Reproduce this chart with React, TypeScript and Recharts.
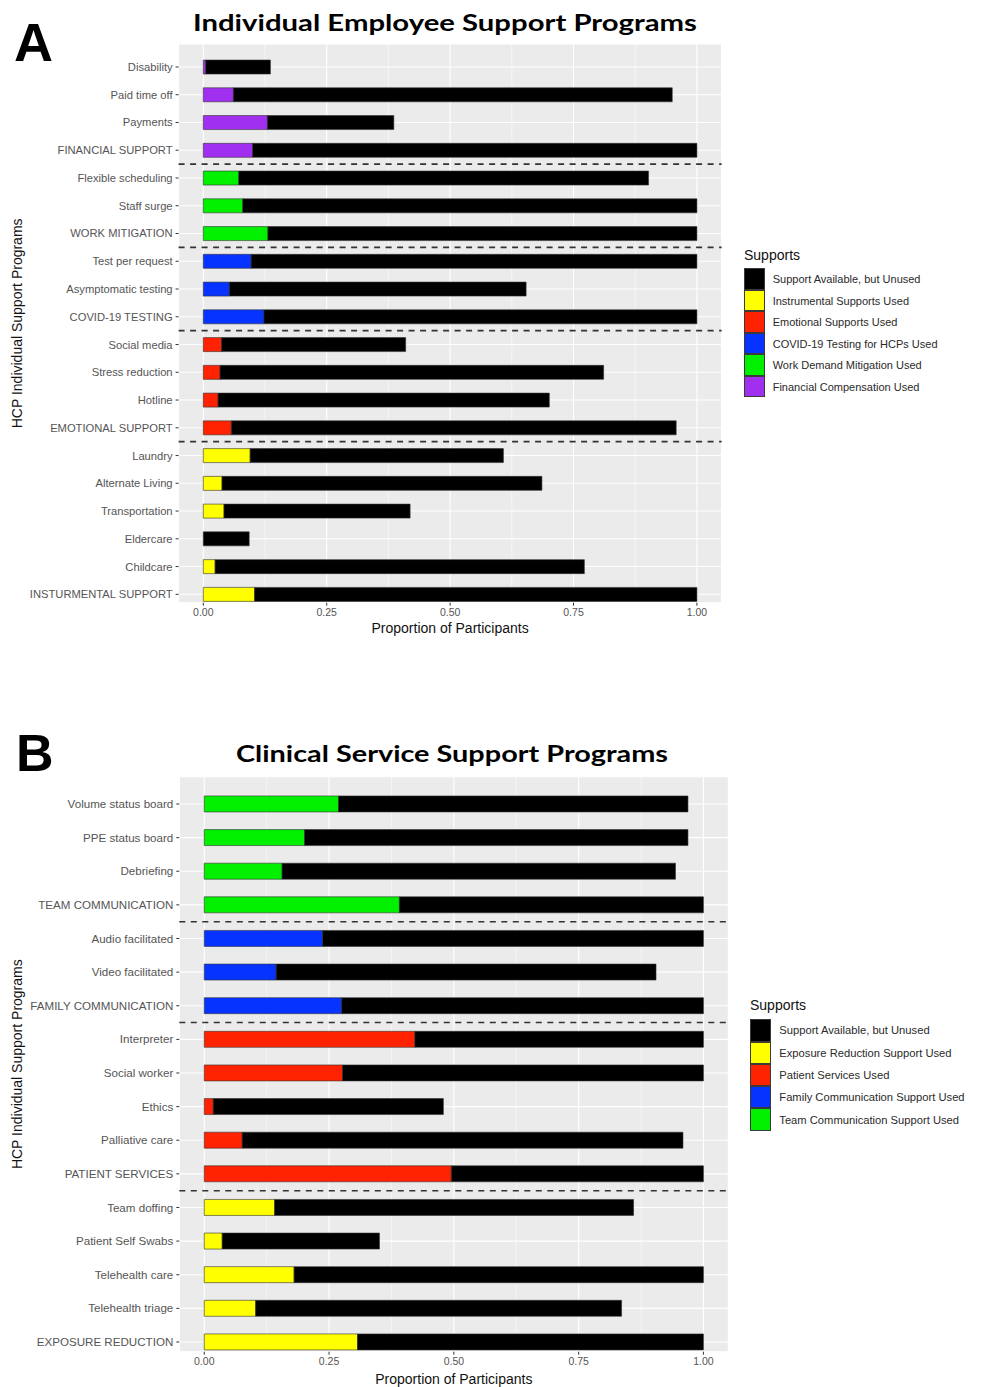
import React from 'react';
import {
  BarChart,
  Bar,
  XAxis,
  YAxis,
  CartesianGrid,
  ReferenceLine,
  Legend,
  Cell,
} from 'recharts';

const FONT = '"Liberation Sans", Arial, Helvetica, sans-serif';

// ---------------- Panel A data ----------------
const A_CATEGORIES = [
  'Disability',
  'Paid time off',
  'Payments',
  'FINANCIAL SUPPORT',
  'Flexible scheduling',
  'Staff surge',
  'WORK MITIGATION',
  'Test per request',
  'Asymptomatic testing',
  'COVID-19 TESTING',
  'Social media',
  'Stress reduction',
  'Hotline',
  'EMOTIONAL SUPPORT',
  'Laundry',
  'Alternate Living',
  'Transportation',
  'Eldercare',
  'Childcare',
  'INSTURMENTAL SUPPORT',
];
const A_USED = [
  0.005, 0.061, 0.13, 0.1, 0.072, 0.08, 0.131, 0.097, 0.053, 0.123, 0.037, 0.034, 0.03,
  0.057, 0.095, 0.038, 0.042, 0, 0.024, 0.104,
];
const A_TOTAL = [
  0.136, 0.95, 0.386, 1.0, 0.902, 1.0, 1.0, 1.0, 0.654, 1.0, 0.41, 0.811, 0.701, 0.958,
  0.608, 0.686, 0.419, 0.093, 0.772, 1.0,
];
const A_GROUP = [
  'financial', 'financial', 'financial', 'financial',
  'work', 'work', 'work',
  'testing', 'testing', 'testing',
  'emotional', 'emotional', 'emotional', 'emotional',
  'instrumental', 'instrumental', 'instrumental', 'instrumental', 'instrumental', 'instrumental',
];
const A_LEGEND_LABELS = [
  'Support Available, but Unused',
  'Instrumental Supports Used',
  'Emotional Supports Used',
  'COVID-19 Testing for HCPs Used',
  'Work Demand Mitigation Used',
  'Financial Compensation Used',
];

// ---------------- Panel B data ----------------
const B_CATEGORIES = [
  'Volume status board',
  'PPE status board',
  'Debriefing',
  'TEAM COMMUNICATION',
  'Audio facilitated',
  'Video facilitated',
  'FAMILY COMMUNICATION',
  'Interpreter',
  'Social worker',
  'Ethics',
  'Palliative care',
  'PATIENT SERVICES',
  'Team doffing',
  'Patient Self Swabs',
  'Telehealth care',
  'Telehealth triage',
  'EXPOSURE REDUCTION',
];
const B_USED = [
  0.269, 0.201, 0.156, 0.391, 0.237, 0.144, 0.275, 0.422, 0.277, 0.018, 0.076, 0.495, 0.141,
  0.036, 0.18, 0.103, 0.307,
];
const B_TOTAL = [
  0.969, 0.969, 0.944, 1.0, 1.0, 0.905, 1.0, 1.0, 1.0, 0.479, 0.959, 1.0, 0.86, 0.351, 1.0,
  0.836, 1.0,
];
const B_GROUP = [
  'team', 'team', 'team', 'team',
  'family', 'family', 'family',
  'patient', 'patient', 'patient', 'patient', 'patient',
  'exposure', 'exposure', 'exposure', 'exposure', 'exposure',
];
const B_LEGEND_LABELS = [
  'Support Available, but Unused',
  'Exposure Reduction Support Used',
  'Patient Services Used',
  'Family Communication Support Used',
  'Team Communication Support Used',
];

// ---------------- Colours ----------------
const UNUSED_COLOR = '#000000';
const GROUP_COLORS: Record<string, string> = {
  financial: '#A12FF0',
  work: '#00F000',
  testing: '#0633FF',
  emotional: '#FF2200',
  instrumental: '#FFFF00',
  team: '#00F000',
  family: '#0633FF',
  patient: '#FF2200',
  exposure: '#FFFF00',
};
const A_LEGEND_COLORS = [UNUSED_COLOR, '#FFFF00', '#FF2200', '#0633FF', '#00F000', '#A12FF0'];
const B_LEGEND_COLORS = [UNUSED_COLOR, '#FFFF00', '#FF2200', '#0633FF', '#00F000'];

// ---------------- Axis ticks ----------------
const X_TICKS = [0, 0.25, 0.5, 0.75, 1];
const X_MINOR = [0.125, 0.375, 0.625, 0.875];

function buildRows(cats: string[], used: number[], total: number[], groups: string[]) {
  return cats.map((name, i) => ({
    name,
    used: used[i],
    unused: +(total[i] - used[i]).toFixed(4),
    group: groups[i],
  }));
}

function groupStarts(cats: string[], groups: string[]) {
  const out: string[] = [];
  for (let i = 1; i < cats.length; i++) {
    if (groups[i] !== groups[i - 1]) out.push(cats[i]);
  }
  return out;
}

const YTick = (props: any) => {
  const { x, y, payload, size } = props;
  return (
    <text
      x={x}
      y={y}
      dy="0.355em"
      textAnchor="end"
      fill="#555555"
      fontSize={size}
      fontFamily={FONT}
    >
      {payload.value}
    </text>
  );
};

type LegendProps = {
  labels: string[];
  colors: string[];
  keyH: number;
  textLeft: number;
  titleGap: number;
  fontSize: number;
};

const LegendBlock = ({ labels, colors, keyH, textLeft, titleGap, fontSize }: LegendProps) => (
  <div style={{ fontFamily: FONT, color: '#222' }}>
    <div style={{ fontSize: 14, lineHeight: '16px', marginBottom: titleGap, color: '#111' }}>Supports</div>
    {labels.map((lab, i) => (
      <div key={lab} style={{ display: 'flex', alignItems: 'center', height: keyH }}>
        <div
          style={{
            width: 21,
            height: keyH,
            boxSizing: 'border-box',
            background: colors[i],
            border: '1px solid #3a3a3a',
          }}
        />
        <span style={{ marginLeft: textLeft, fontSize, whiteSpace: 'nowrap', color: '#2a2a2a' }}>{lab}</span>
      </div>
    ))}
  </div>
);

type PanelProps = {
  rows: any[];
  starts: string[];
  height: number;
  marginTop: number;
  marginRight: number;
  yWidth: number;
  padTop: number;
  padBottom: number;
  gap: string;
  tickFont: number;
  xAxisHeight: number;
  xLabelOffset: number;
  legendLeft: number;
  legendTop: number;
  legend: LegendProps;
};

const Panel = (p: PanelProps) => (
  <BarChart
    width={983}
    height={p.height}
    data={p.rows}
    layout="vertical"
    margin={{ top: p.marginTop, right: p.marginRight, bottom: 0, left: 0 }}
    barCategoryGap={p.gap}
  >
    <CartesianGrid fill="#EBEBEB" fillOpacity={1} stroke="#FFFFFF" strokeWidth={1.1} />
    <CartesianGrid
      horizontal={false}
      verticalValues={X_MINOR}
      stroke="#FFFFFF"
      strokeWidth={0.5}
      fill="none"
    />
    <XAxis
      type="number"
      domain={[-0.05, 1.05]}
      ticks={X_TICKS}
      interval={0}
      tickFormatter={(v: number) => v.toFixed(2)}
      axisLine={false}
      tickSize={3}
      tickMargin={3}
      tickLine={{ stroke: '#333333' }}
      tick={{ fill: '#555555', fontSize: 10.5, fontFamily: FONT }}
      height={p.xAxisHeight}
      label={{
        value: 'Proportion of Participants',
        position: 'insideBottom',
        offset: p.xLabelOffset,
        style: { fill: '#111111', fontSize: 14, fontFamily: FONT },
      }}
    />
    <YAxis
      type="category"
      dataKey="name"
      width={p.yWidth}
      interval={0}
      axisLine={false}
      tickSize={3}
      tickMargin={3}
      tickLine={{ stroke: '#333333' }}
      tick={<YTick size={p.tickFont} />}
      padding={{ top: p.padTop, bottom: p.padBottom }}
      label={{
        value: 'HCP Individual Support Programs',
        angle: -90,
        position: 'insideLeft',
        offset: 17,
        style: { textAnchor: 'middle', fill: '#111111', fontSize: 14, fontFamily: FONT },
      }}
    />
    <Bar dataKey="used" stackId="s" stroke="#333333" strokeWidth={0.6} isAnimationActive={false}>
      {p.rows.map((r) => (
        <Cell key={r.name} fill={GROUP_COLORS[r.group]} />
      ))}
    </Bar>
    <Bar
      dataKey="unused"
      stackId="s"
      fill={UNUSED_COLOR}
      stroke="#333333"
      strokeWidth={0.6}
      isAnimationActive={false}
    />
    {p.starts.map((name) => (
      <ReferenceLine
        key={name}
        y={name}
        position="start"
        stroke="#333333"
        strokeWidth={1.6}
        strokeDasharray="6 5.5"
      />
    ))}
    <Legend
      layout="vertical"
      align="center"
      verticalAlign="middle"
      wrapperStyle={{ left: p.legendLeft, top: p.legendTop, width: 240, height: 'auto' }}
      content={() => <LegendBlock {...p.legend} />}
    />
  </BarChart>
);

const App = () => {
  const rowsA = buildRows(A_CATEGORIES, A_USED, A_TOTAL, A_GROUP);
  const rowsB = buildRows(B_CATEGORIES, B_USED, B_TOTAL, B_GROUP);
  return (
    <div
      style={{
        position: 'absolute',
        left: 0,
        top: 0,
        width: 983,
        height: 1387,
        background: '#FFFFFF',
        fontFamily: FONT,
        overflow: 'hidden',
      }}
    >
      <div style={{ position: 'absolute', left: 0, top: 0 }}>
        <Panel
          rows={rowsA}
          starts={groupStarts(A_CATEGORIES, A_GROUP)}
          height={650}
          marginTop={44}
          marginRight={261.4}
          yWidth={178.6}
          padTop={9.1}
          padBottom={-5.5}
          gap="25%"
          tickFont={11.2}
          xAxisHeight={47.3}
          xLabelOffset={17.5}
          legendLeft={744}
          legendTop={247}
          legend={{
            labels: A_LEGEND_LABELS,
            colors: A_LEGEND_COLORS,
            keyH: 21.5,
            textLeft: 7.7,
            titleGap: 5.3,
            fontSize: 11,
          }}
        />
      </div>
      <div style={{ position: 'absolute', left: 0, top: 700 }}>
        <Panel
          rows={rowsB}
          starts={groupStarts(B_CATEGORIES, B_GROUP)}
          height={687}
          marginTop={76.7}
          marginRight={254.6}
          yWidth={179.3}
          padTop={10.5}
          padBottom={-7.1}
          gap="26%"
          tickFont={11.6}
          xAxisHeight={35.3}
          xLabelOffset={3.5}
          legendLeft={750}
          legendTop={297}
          legend={{
            labels: B_LEGEND_LABELS,
            colors: B_LEGEND_COLORS,
            keyH: 22.3,
            textLeft: 8.3,
            titleGap: 6.3,
            fontSize: 11.2,
          }}
        />
      </div>
      <svg
        width={983}
        height={1387}
        style={{ position: 'absolute', left: 0, top: 0, pointerEvents: 'none' }}
      >
        <text x={14} y={61} fontFamily={FONT} fontWeight={700} fontSize={54} fill="#000">
          A
        </text>
        <text x={16} y={771} fontFamily={FONT} fontWeight={700} fontSize={52} fill="#000">
          B
        </text>
        <text
          x={193}
          y={30.7}
          fontFamily="Lato, 'Open Sans', sans-serif"
          fontWeight={700}
          fontSize={22}
          textLength={504}
          lengthAdjust="spacingAndGlyphs"
          fill="#000"
        >
          Individual Employee Support Programs
        </text>
        <text
          x={236}
          y={761.5}
          fontFamily="Lato, 'Open Sans', sans-serif"
          fontWeight={700}
          fontSize={22}
          textLength={432}
          lengthAdjust="spacingAndGlyphs"
          fill="#000"
        >
          Clinical Service Support Programs
        </text>
      </svg>
    </div>
  );
};

export default App;
